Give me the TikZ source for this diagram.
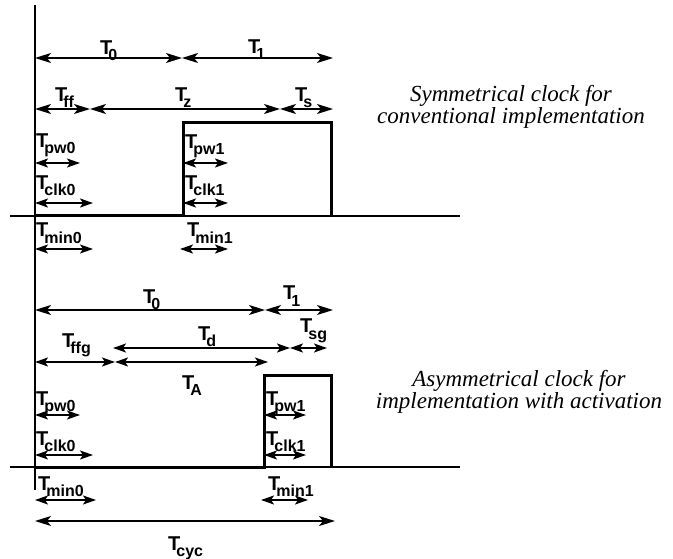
\documentclass[tikz,border=0pt]{standalone}
\usepackage{fontspec}
\setmainfont{Liberation Serif}
\newfontfamily\labfont{Liberation Sans}
\usetikzlibrary{arrows.meta}
\newcommand{\Tsub}[1]{T\kern-4pt\raisebox{-6pt}{\fontsize{16}{16}\selectfont #1}}
\tikzset{
  dim/.style={{Stealth[length=13pt,width=9pt,inset=3pt]}-{Stealth[length=13pt,width=9pt,inset=3pt]}, line width=1.8pt},
  dimL/.style={{Stealth[length=16pt,width=10pt,inset=4pt]}-{Stealth[length=16pt,width=10pt,inset=4pt]}, line width=1.8pt},
  lab/.style={anchor=base west, inner sep=0pt, font=\labfont\bfseries\fontsize{20}{20}\selectfont},
  captext/.style={align=center, inner sep=0pt, font=\fontsize{23}{22}\selectfont\itshape},
  sig/.style={line width=3pt, line join=miter},
  baseline line/.style={line width=1.8pt},
  axis/.style={line width=2.5pt}
}
\begin{document}
\begin{tikzpicture}[x=1pt,y=-1pt]
\useasboundingbox (0,0) rectangle (673,559);
% axis
\coordinate (ax0) at (35,5); \coordinate (ax1) at (35,490);
\draw[axis] (ax0) -- (ax1);

% ===== top: symmetrical =====
\coordinate (a0) at (35,58); \coordinate (a1) at (182,58); \coordinate (a2) at (333,58);
\draw[dimL] (a0) -- (a1); \draw[dimL] (a1) -- (a2);
\node[lab] (lT0) at (100,55) {\Tsub{0}};
\node[lab] (lT1) at (248,54) {\Tsub{1}};

\coordinate (b0) at (35,109); \coordinate (b1) at (90,109); \coordinate (b2) at (280,109); \coordinate (b3) at (333,109);
\draw[dimL] (b0) -- (b1); \draw[dimL] (b1) -- (b2); \draw[dimL] (b2) -- (b3);
\node[lab] (lTff) at (55,102) {\Tsub{ff}};
\node[lab] (lTz) at (175,102) {\Tsub{z}};
\node[lab] (lTs) at (295,102) {\Tsub{s}};

\coordinate (p0) at (10,216); \coordinate (p1) at (35,216); \coordinate (p2) at (183,216);
\coordinate (p3) at (183,123); \coordinate (p4) at (331,123); \coordinate (p5) at (331,216); \coordinate (p6) at (460,216);
\draw[baseline line] (p0) -- (p6);
\draw[sig] (p1) -- (p2) -- (p3) -- (p4) -- (p5);

\coordinate (c0) at (35,163); \coordinate (c1) at (80,163);
\draw[dim] (c0) -- (c1);
\node[lab] (lTpw0a) at (36,148) {\Tsub{pw0}};
\coordinate (d0) at (35,203); \coordinate (d1) at (93,203);
\draw[dim] (d0) -- (d1);
\node[lab] (lTclk0a) at (36,190) {\Tsub{clk0}};
\coordinate (c2) at (183,163); \coordinate (c3) at (228,163);
\draw[dim] (c2) -- (c3);
\node[lab] (lTpw1a) at (185,149) {\Tsub{pw1}};
\coordinate (d2) at (183,203); \coordinate (d3) at (228,203);
\draw[dim] (d2) -- (d3);
\node[lab] (lTclk1a) at (185,190) {\Tsub{clk1}};

\coordinate (e0) at (35,249); \coordinate (e1) at (93,249);
\draw[dim] (e0) -- (e1);
\node[lab] (lTmin0a) at (36,237) {\Tsub{min0}};
\coordinate (e2) at (180,249); \coordinate (e3) at (228,249);
\draw[dim] (e2) -- (e3);
\node[lab] (lTmin1a) at (187,237) {\Tsub{min1}};

\node[captext] (capA) at (511,107) {Symmetrical clock for\\conventional implementation};

% ===== bottom: asymmetrical =====
\coordinate (f0) at (35,310); \coordinate (f1) at (265,310); \coordinate (f2) at (333,310);
\draw[dimL] (f0) -- (f1); \draw[dimL] (f1) -- (f2);
\node[lab] (lT0b) at (143,303) {\Tsub{0}};
\node[lab] (lT1b) at (283,300) {\Tsub{1}};

\coordinate (g0) at (113,348); \coordinate (g1) at (290,348); \coordinate (g2) at (327,348);
\draw[dim] (g0) -- (g1); \draw[dim] (g1) -- (g2);
\node[lab] (lTd) at (198,340) {\Tsub{d}};
\node[lab] (lTsg) at (300,333) {\Tsub{sg}};

\coordinate (h0) at (35,362); \coordinate (h1) at (115,362); \coordinate (h2) at (268,362);
\draw[dim] (h0) -- (h1); \draw[dim] (h1) -- (h2);
\node[lab] (lTffg) at (62,347) {\Tsub{ffg}};
\node[lab] (lTA) at (182,389) {\Tsub{A}};

\coordinate (q0) at (10,467); \coordinate (q1) at (35,467); \coordinate (q2) at (264,467);
\coordinate (q3) at (264,375); \coordinate (q4) at (331,375); \coordinate (q5) at (331,467); \coordinate (q6) at (460,467);
\draw[baseline line] (q0) -- (q6);
\draw[sig] (q1) -- (q2) -- (q3) -- (q4) -- (q5);

\coordinate (i0) at (35,415); \coordinate (i1) at (80,415);
\draw[dim] (i0) -- (i1);
\node[lab] (lTpw0b) at (36,405) {\Tsub{pw0}};
\coordinate (j0) at (35,455); \coordinate (j1) at (93,455);
\draw[dim] (j0) -- (j1);
\node[lab] (lTclk0b) at (36,445) {\Tsub{clk0}};
\coordinate (i2) at (264,415); \coordinate (i3) at (306,415);
\draw[dim] (i2) -- (i3);
\node[lab] (lTpw1b) at (266,405) {\Tsub{pw1}};
\coordinate (j2) at (264,455); \coordinate (j3) at (306,455);
\draw[dim] (j2) -- (j3);
\node[lab] (lTclk1b) at (266,445) {\Tsub{clk1}};

\coordinate (k0) at (35,500); \coordinate (k1) at (96,500);
\draw[dim] (k0) -- (k1);
\node[lab] (lTmin0b) at (38,490) {\Tsub{min0}};
\coordinate (k2) at (261,500); \coordinate (k3) at (308,500);
\draw[dim] (k2) -- (k3);
\node[lab] (lTmin1b) at (268,490) {\Tsub{min1}};

\coordinate (m0) at (35,521); \coordinate (m1) at (335,521);
\draw[dimL] (m0) -- (m1);
\node[lab] (lTcyc) at (168,550) {\Tsub{cyc}};

\node[captext] (capB) at (519,392) {Asymmetrical clock for\\implementation with activation};
\end{tikzpicture}
\end{document}
